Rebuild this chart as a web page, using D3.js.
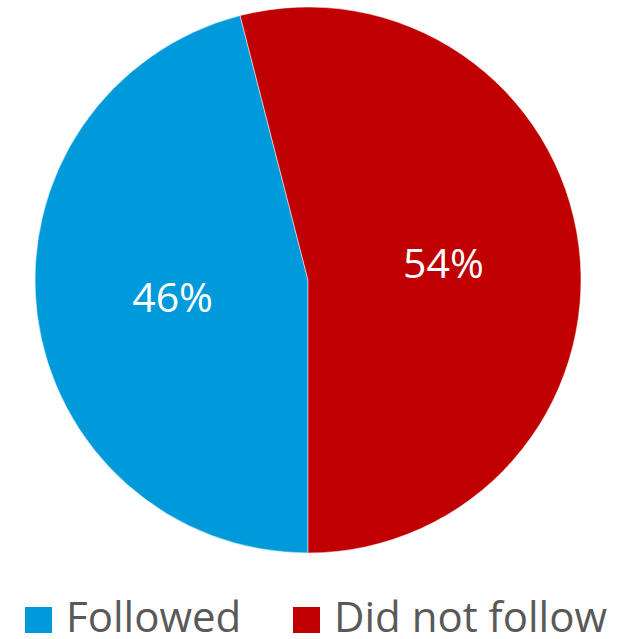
<!DOCTYPE html>
<html><head><meta charset="utf-8">
<script src="https://cdn.jsdelivr.net/npm/d3@7"></script>
<style>html,body{margin:0;padding:0;background:#fff;overflow:hidden;}</style>
</head><body>
<svg id="chart" width="620" height="639"></svg>
<script>
const categories = ["Followed", "Did not follow"];
const values = [46, 54];
const labels = ["46%", "54%"];
const colors = ["#009ADA", "#C00000"];

const svg = d3.select("#chart");
const cx = 308, cy = 280, r = 273;
const g = svg.append("g").attr("transform", `translate(${cx},${cy})`);
const pie = d3.pie().sort(null).startAngle(Math.PI).endAngle(3 * Math.PI);
const arcs = pie(values);
const arc = d3.arc().innerRadius(0).outerRadius(r);
const labelArc = d3.arc().innerRadius(r * 0.5).outerRadius(r * 0.5);

g.selectAll("path").data(arcs).enter().append("path")
  .attr("d", arc)
  .attr("fill", (d, i) => colors[i])
  .attr("stroke", "#fff").attr("stroke-width", 0.5);

g.selectAll("text").data(arcs).enter().append("text")
  .attr("transform", d => `translate(${labelArc.centroid(d)})`)
  .attr("text-anchor", "middle")
  .attr("dy", "0.36em")
  .attr("fill", "#fff")
  .style("font-family", "'Open Sans', sans-serif")
  .style("font-size", "41px")
  .text((d, i) => labels[i]);

const legendX = d3.scaleOrdinal().domain(categories).range([25, 293]);
const lg = svg.append("g");
categories.forEach((c, i) => {
  lg.append("rect").attr("x", legendX(c)).attr("y", 607).attr("width", 27).attr("height", 26).attr("fill", colors[i]);
  lg.append("text").attr("x", legendX(c) + 41).attr("y", 632)
    .attr("fill", "#595959")
    .style("font-family", "'Open Sans', sans-serif")
    .style("font-size", "42px")
    .text(c);
});
</script>
</body></html>
